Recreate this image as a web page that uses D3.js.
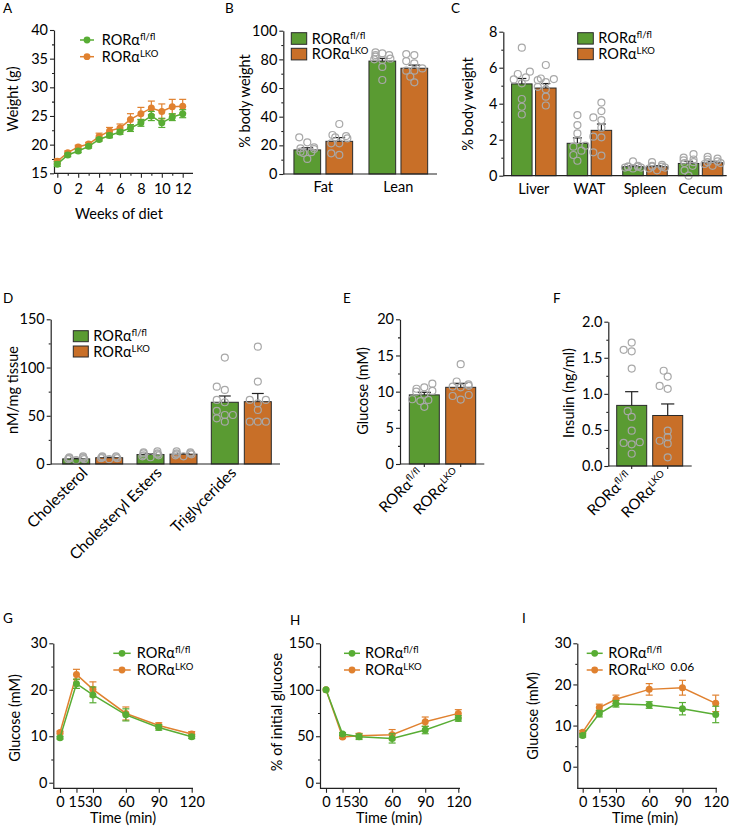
<!DOCTYPE html>
<html><head><meta charset="utf-8">
<script src="https://cdn.jsdelivr.net/npm/d3@7"></script>
<style>body{margin:0;background:#fff}svg{display:block}text{font-family:Lato,sans-serif;fill:#000}</style>
</head><body><svg id="c" width="731" height="832"></svg>
<script>
// ---------------- DATA ----------------
// A: body weight over weeks of diet
const weeks = [0,1,2,3,4,5,6,7,8,9,10,11,12];
const weightFl = [16.6,18.2,18.9,19.7,20.9,21.6,22.2,22.9,23.8,25.0,23.8,24.8,25.4];
const weightFlErr = [0.4,0.3,0.3,0.3,0.3,0.4,0.4,0.6,0.6,0.8,0.8,0.6,0.7];
const weightLko = [17.1,18.6,19.6,20.1,21.4,22.4,22.9,24.4,25.4,26.4,25.8,26.6,26.7];
const weightLkoErr = [0.4,0.3,0.3,0.3,0.6,0.6,0.7,1.0,1.1,1.2,1.3,1.3,1.2];

// B: body composition
const compCats = ["Fat","Lean"];
const compFl = [16.8,78.8], compFlErr = [1.5,1.8];
const compLko = [22.8,73.8], compLkoErr = [2.6,2.2];
const compFlDots = [[22.1,15.6,10.5,25.6,17.9,17.4,14.7,18.6,15.2],[84.9,83,80,74.7,81.9,83,79.5,84.2,65.6,80.5]];
const compLkoDots = [[27.2,21.4,13.3,25.6,34.9,21.4,14.4,24.9,26.5],[83,73.7,64,77.2,72.1,67.9,72.1,83.7,78.8]];

// C: organ weights
const organCats = ["Liver","WAT","Spleen","Cecum"];
const organFl = [5.1,1.8,0.5,0.68], organFlErr = [0.3,0.3,0.05,0.12];
const organLko = [4.87,2.52,0.5,0.72], organLkoErr = [0.25,0.35,0.05,0.08];
const organFlDots = [[5.78,3.4,5.35,7.11,4.26,5.46,3.83,5.65,5.13],[2.35,1.39,1.98,3.37,0.83,1.61,2.81,1.15,1.67],[0.45,0.5,0.55,0.8,0.5,0.45,0.5,0.4],[0.85,0.7,1.0,1.2,0.0,0.55,0.9,0.75,0.3]];
const organLkoDots = [[5.4,4.39,4.94,6.15,3.9,5.31,4.8,5.37,5.2],[3.24,1.11,2.67,4.06,3.09,1.3,3.59,2.13,2.17],[0.45,0.55,0.75,0.4,0.3,0.5,0.6,0.5],[0.75,0.55,0.95,1.05,0.65,0.8,0.9,0.7]];

// D: hepatic lipids
const lipidCats = ["Cholesterol","Cholesteryl Esters","Triglycerides"];
const lipidFl = [5.3,9.8,64], lipidFlErr = [0.6,0.8,6.5];
const lipidLko = [6.5,10.2,64.6], lipidLkoErr = [0.5,0.6,8.5];
const lipidFlDots = [[6,5,7,8,5,6,4,7,6],[9,11,8,13,10,7,11,12,9],[50.8,80.2,110.3,43.9,64,76.8,55,47.3,50.8,66.4]];
const lipidLkoDots = [[7,6,8,7,6,5,8,7],[12,10,9,11,10,13,8,11],[43.9,66.4,121.6,43.9,56,66.4,43.9,85.4,62.9]];

// E: fasting glucose, F: insulin
const genoCats = ["fl/fl","LKO"];
const glucoseMean = [9.55,10.6], glucoseErr = [0.35,0.55];
const glucoseDots = [[10.1,8.85,10.6,9.6,8.95,7.9,11.1,10.0,8.7,10.4],[11.0,9.54,10.6,13.8,8.9,10.7,10.8,9.4,11.4]];
const insulinMean = [0.84,0.70], insulinErr = [0.19,0.16];
const insulinDots = [[1.71,1.61,1.59,1.35,0.76,0.68,0.49,0.32,0.30,0.33,0.17],[1.32,1.24,1.11,1.07,0.49,0.40,0.35,0.31,0.12]];

// G, H, I: tolerance tests
const times = [0,15,30,60,90,120];
const gttFl = [9.7,21.3,18.9,14.6,11.9,9.9], gttFlErr = [0.3,1.0,1.7,1.3,0.6,0.4];
const gttLko = [10.8,23.3,20.1,14.9,12.3,10.5], gttLkoErr = [0.3,1.1,1.6,1.4,0.6,0.5];
const ittFl = [100,52.4,49.5,47.7,56.7,69.2], ittFlErr = [0,1.5,3,5,4,3];
const ittLko = [100,49.2,50.6,51.7,65.7,74.6], ittLkoErr = [0,1.5,2.5,5.5,5,4];
const pttFl = [7.6,12.9,15.3,15.0,14.1,12.7], pttFlErr = [0.4,0.8,0.8,0.8,1.5,2.0];
const pttLko = [8.4,14.4,16.4,18.8,19.2,15.4], pttLkoErr = [0.4,0.8,1.0,1.4,1.8,2.0];

// ---------------- STYLE ----------------
const GREEN_BAR = "#5a9b32", ORANGE_BAR = "#c86f28";
const GREEN_LINE = "#58ad34", ORANGE_LINE = "#e0812f";
const DOT = "#a8a8a8", AXIS = "#222";
const FS = 14.5, FONT = "Lato,sans-serif";

const svg = d3.select("#c");

function styleAxis(g){
  g.selectAll("path.domain").attr("stroke",AXIS).attr("stroke-width",1.2);
  g.selectAll(".tick line").attr("stroke",AXIS).attr("stroke-width",1.1);
  g.selectAll("text").attr("font-size",FS).attr("font-family",FONT).attr("fill","#000");
  g.attr("font-size",null).attr("font-family",null);
}

function yAxis(y, x, majors, minors, fmt){
  const g = svg.append("g").attr("transform",`translate(${x},0)`)
    .call(d3.axisLeft(y).tickValues(majors).tickSize(4).tickSizeOuter(0).tickPadding(2).tickFormat(fmt||d3.format("d")));
  styleAxis(g);
  if(minors){
    const m = svg.append("g").attr("transform",`translate(${x},0)`)
      .call(d3.axisLeft(y).tickValues(minors).tickSize(2).tickFormat(""));
    m.select("path.domain").remove();
    styleAxis(m);
  }
}

function ror(sel, sup){
  sel.append("tspan").text("RORα");
  sel.append("tspan").attr("font-size",9.5).attr("dy",-5).text(sup);
}

function yTitle(txt, x, y){
  svg.append("text").attr("transform",`translate(${x},${y}) rotate(-90)`)
    .attr("text-anchor","middle").attr("dy","0.35em").attr("font-size",FS).text(txt);
}
function letter(t,x,y){ svg.append("text").attr("x",x).attr("y",y).attr("font-size",13.5).text(t); }

function lineLegend(x1,x2,y,color,sup,tx){
  svg.append("line").attr("x1",x1).attr("x2",x2).attr("y1",y).attr("y2",y).attr("stroke",color).attr("stroke-width",1.5);
  svg.append("circle").attr("cx",(x1+x2)/2).attr("cy",y).attr("r",3.4).attr("fill",color);
  ror(svg.append("text").attr("x",tx).attr("y",y+5).attr("font-size",FS),sup);
}
function boxLegend(x,y,w,h,color,sup,tx){
  svg.append("rect").attr("x",x).attr("y",y).attr("width",w).attr("height",h).attr("fill",color).attr("stroke","#2a2a2a").attr("stroke-width",1);
  ror(svg.append("text").attr("x",tx).attr("y",y+h/2+5).attr("font-size",FS),sup);
}

// beeswarm-like horizontal spreading of dots
function swarm(vals, y, cx, r, hw){
  const idx = vals.map((v,i)=>i).sort((a,b)=>vals[a]-vals[b]);
  const placed = [];
  const res = new Array(vals.length);
  const step = r*1.15, minD = 2*r*0.92;
  idx.forEach(i=>{
    const py = y(vals[i]);
    let best = null;
    for(let k=0;k<20;k++){
      const off = (k%2===0?1:-1)*Math.ceil(k/2)*step;
      if(Math.abs(off)>hw) continue;
      const px = cx+off;
      if(placed.every(p=>Math.hypot(p[0]-px,p[1]-py)>=minD)){ best=[px,py]; break; }
    }
    if(!best){ best=[cx+((placed.length%2)?-1:1)*hw*0.6, py]; }
    placed.push(best); res[i]=best;
  });
  return res;
}

// ---------------- BAR PANEL ----------------
function barPanel(cfg){
  const y = d3.scaleLinear().domain(cfg.yDom).range(cfg.yRange);
  const x = d3.scalePoint().domain(cfg.cats).range([cfg.r0,cfg.r1]).padding(cfg.pad);
  const g = svg.append("g");
  cfg.series.forEach((s,si)=>{
    cfg.cats.forEach((c,ci)=>{
      const m = s.means[ci]; if(m==null) return;
      const cx = x(c)+cfg.offsets[si];
      const col = Array.isArray(s.color)? s.color[ci] : s.color;
      g.append("rect").attr("x",cx-cfg.bw/2).attr("y",y(m)).attr("width",cfg.bw).attr("height",y(0)-y(m))
        .attr("fill",col).attr("stroke","#2a2a2a").attr("stroke-width",1);
      const top = y(m+s.errs[ci]);
      g.append("line").attr("x1",cx).attr("x2",cx).attr("y1",y(m)).attr("y2",top).attr("stroke","#222").attr("stroke-width",1.2);
      g.append("line").attr("x1",cx-cfg.bw*0.22).attr("x2",cx+cfg.bw*0.22).attr("y1",top).attr("y2",top).attr("stroke","#222").attr("stroke-width",1.2);
      swarm(s.dots[ci], y, cx, 3.5, cfg.bw/2-2).forEach(p=>{
        g.append("circle").attr("cx",p[0]).attr("cy",p[1]).attr("r",3.5).attr("fill","none").attr("stroke",DOT).attr("stroke-width",1.2);
      });
    });
  });
  yAxis(y, cfg.r0, cfg.majors, cfg.minors, cfg.fmt);
  const ay = y(0);
  svg.append("line").attr("x1",cfg.r0).attr("x2",cfg.xEnd).attr("y1",ay).attr("y2",ay).attr("stroke",AXIS).attr("stroke-width",1.2);
  if(cfg.xTicks){
    cfg.cats.forEach(c=>svg.append("line").attr("x1",x(c)).attr("x2",x(c)).attr("y1",ay).attr("y2",ay+3).attr("stroke",AXIS).attr("stroke-width",1.1));
  }
  cfg.cats.forEach(c=>{
    if(cfg.rot){
      const t = svg.append("text").attr("transform",`translate(${x(c)+cfg.rot[0]},${ay+cfg.rot[1]}) rotate(-45)`)
        .attr("text-anchor","end").attr("dy","0.35em").attr("font-size",cfg.rotFs||FS);
      if(cfg.rorLabels) ror(t,c); else t.text(c);
    } else {
      svg.append("text").attr("x",x(c)).attr("y",ay+18).attr("text-anchor","middle").attr("font-size",FS).text(c);
    }
  });
  return {x,y};
}

// ---------------- LINE PANEL ----------------
function linePanel(cfg){
  const x = d3.scaleLinear().domain(cfg.xDom).range(cfg.xRange);
  const y = d3.scaleLinear().domain(cfg.yDom).range(cfg.yRange);
  yAxis(y, cfg.axX, cfg.majors, cfg.minors, cfg.fmt);
  const ay = y(cfg.yDom[0]);
  svg.append("line").attr("x1",cfg.axX).attr("x2",cfg.axEnd).attr("y1",ay).attr("y2",ay).attr("stroke",AXIS).attr("stroke-width",1.2);
  const xa = svg.append("g").attr("transform",`translate(0,${ay})`)
    .call(d3.axisBottom(x).tickValues(cfg.xMajors).tickSize(4.5).tickPadding(cfg.xPad).tickFormat(d3.format("d")));
  xa.select("path.domain").remove(); styleAxis(xa);
  if(cfg.xMinors){
    const xm = svg.append("g").attr("transform",`translate(0,${ay})`)
      .call(d3.axisBottom(x).tickValues(cfg.xMinors).tickSize(2.5).tickFormat(""));
    xm.select("path.domain").remove(); styleAxis(xm);
  }
  const g = svg.append("g");
  cfg.series.forEach(s=>{
    s.vals.forEach((v,i)=>{
      const e = s.errs[i]; if(!e) return;
      const cx = x(cfg.xs[i]);
      g.append("line").attr("x1",cx).attr("x2",cx).attr("y1",y(v-e)).attr("y2",y(v+e)).attr("stroke",s.color).attr("stroke-width",1.2);
      [v-e,v+e].forEach(b=>g.append("line").attr("x1",cx-3.5).attr("x2",cx+3.5).attr("y1",y(b)).attr("y2",y(b)).attr("stroke",s.color).attr("stroke-width",1.2));
    });
    g.append("path").datum(s.vals).attr("fill","none").attr("stroke",s.color).attr("stroke-width",1.5)
      .attr("d",d3.line().x((d,i)=>x(cfg.xs[i])).y(d=>y(d)));
    s.vals.forEach((v,i)=>g.append("circle").attr("cx",x(cfg.xs[i])).attr("cy",y(v)).attr("r",3.5).attr("fill",s.color));
  });
  return {x,y};
}

// ---------------- PANEL A ----------------
letter("A",3,13);
linePanel({xDom:[0,12],xRange:[57.3,182.7],yDom:[15,40],yRange:[173.3,30],axX:54,axEnd:193,
  majors:d3.range(15,41,5),minors:d3.range(17.5,40,5),xMajors:d3.range(0,13,2),xMinors:d3.range(1,12,2),xPad:6,
  xs:weeks,series:[{vals:weightLko,errs:weightLkoErr,color:ORANGE_LINE},{vals:weightFl,errs:weightFlErr,color:GREEN_LINE}]});
yTitle("Weight (g)",13,99);
svg.append("text").attr("x",119).attr("y",219).attr("text-anchor","middle").attr("font-size",FS).text("Weeks of diet");
lineLegend(80,94,40,GREEN_LINE,"fl/fl",101.7);
lineLegend(80,94,56.7,ORANGE_LINE,"LKO",101.7);

// ---------------- PANEL B ----------------
letter("B",225,13);
barPanel({cats:compCats,yDom:[0,100],yRange:[174,30.7],r0:283.3,r1:438.3,xEnd:437,pad:0.533,offsets:[-16,16],bw:26.7,
  majors:d3.range(0,101,20),minors:d3.range(10,100,20),
  series:[{means:compFl,errs:compFlErr,dots:compFlDots,color:GREEN_BAR},{means:compLko,errs:compLkoErr,dots:compLkoDots,color:ORANGE_BAR}]});
yTitle("% body weight",245,101);
boxLegend(291.3,32.7,15.4,11.6,GREEN_BAR,"fl/fl",311.7);
boxLegend(291.3,48.3,15.4,11.6,ORANGE_BAR,"LKO",311.7);

// ---------------- PANEL C ----------------
letter("C",451,13);
barPanel({cats:organCats,yDom:[0,8],yRange:[175.7,31.7],r0:503.3,r1:731.1,xEnd:726.7,pad:0.549,offsets:[-12,12],bw:20.5,
  majors:[0,2,4,6,8],minors:[1,3,5,7],
  series:[{means:organFl,errs:organFlErr,dots:organFlDots,color:GREEN_BAR},{means:organLko,errs:organLkoErr,dots:organLkoDots,color:ORANGE_BAR}]});
yTitle("% body weight",468,104);
boxLegend(577.7,32.7,15.6,11.4,GREEN_BAR,"fl/fl",598.3);
boxLegend(577.7,48.3,15.6,11.4,ORANGE_BAR,"LKO",598.3);

// ---------------- PANEL D ----------------
letter("D",3,303);
barPanel({cats:lipidCats,yDom:[0,150],yRange:[464,319.3],r0:50.7,r1:283.3,xEnd:280,pad:0.565,offsets:[-16.5,16.5],bw:27,
  majors:[0,50,100,150],minors:[25,75,125],rot:[-8,6],rotFs:15.5,
  series:[{means:lipidFl,errs:lipidFlErr,dots:lipidFlDots,color:GREEN_BAR},{means:lipidLko,errs:lipidLkoErr,dots:lipidLkoDots,color:ORANGE_BAR}]});
yTitle("nM/mg tissue",13,390);
boxLegend(73.3,330.7,15,11,GREEN_BAR,"fl/fl",93.3);
boxLegend(73.3,346,15,11,ORANGE_BAR,"LKO",93.3);

// ---------------- PANEL E ----------------
letter("E",343,303);
barPanel({cats:genoCats,yDom:[0,20],yRange:[464,319.3],r0:400,r1:485,xEnd:484.3,pad:0.668,offsets:[0],bw:30,xTicks:true,
  majors:[0,5,10,15,20],minors:[2.5,7.5,12.5,17.5],rot:[-4,7],rotFs:15,rorLabels:true,
  series:[{means:glucoseMean,errs:glucoseErr,dots:glucoseDots,color:[GREEN_BAR,ORANGE_BAR]}]});
yTitle("Glucose (mM)",363,391);

// ---------------- PANEL F ----------------
letter("F",553,303);
barPanel({cats:genoCats,yDom:[0,2],yRange:[466,321.7],r0:608.3,r1:691.1,xEnd:691.7,pad:0.65,offsets:[0],bw:30,xTicks:true,
  majors:[0,0.5,1,1.5,2],minors:[0.25,0.75,1.25,1.75],fmt:d3.format(".1f"),rot:[-3,8],rotFs:15,rorLabels:true,
  series:[{means:insulinMean,errs:insulinErr,dots:insulinDots,color:[GREEN_BAR,ORANGE_BAR]}]});
yTitle("Insulin (ng/ml)",569,393);

// ---------------- PANEL G ----------------
letter("G",3,623);
linePanel({xDom:[0,120],xRange:[60,191.7],yDom:[-1.2,30],yRange:[788.3,643.3],axX:53.3,axEnd:193,
  majors:[0,10,20,30],minors:[5,15,25],xMajors:times,xPad:4,
  xs:times,series:[{vals:gttLko,errs:gttLkoErr,color:ORANGE_LINE},{vals:gttFl,errs:gttFlErr,color:GREEN_LINE}]});
yTitle("Glucose (mM)",15,718);
svg.append("text").attr("x",123).attr("y",823).attr("text-anchor","middle").attr("font-size",FS).text("Time (min)");
lineLegend(113.3,130.7,653.3,GREEN_LINE,"fl/fl",136.7);
lineLegend(113.3,130.7,670,ORANGE_LINE,"LKO",136.7);

// ---------------- PANEL H ----------------
letter("H",290,625);
linePanel({xDom:[0,120],xRange:[326,458.3],yDom:[-6,150],yRange:[788.3,643.3],axX:320,axEnd:460,
  majors:[0,50,100,150],minors:[25,75,125],xMajors:times,xPad:4,
  xs:times,series:[{vals:ittLko,errs:ittLkoErr,color:ORANGE_LINE},{vals:ittFl,errs:ittFlErr,color:GREEN_LINE}]});
yTitle("% of  initial glucose",277,712);
svg.append("text").attr("x",389).attr("y",823).attr("text-anchor","middle").attr("font-size",FS).text("Time (min)");
lineLegend(344,360,653.3,GREEN_LINE,"fl/fl",365);
lineLegend(344,360,670,ORANGE_LINE,"LKO",365);

// ---------------- PANEL I ----------------
letter("I",522,623);
const pI = linePanel({xDom:[0,120],xRange:[582.7,715.7],yDom:[-5.25,30],yRange:[788.3,643.3],axX:577.3,axEnd:717,
  majors:[0,10,20,30],minors:[5,15,25],xMajors:times,xPad:4,
  xs:times,series:[{vals:pttLko,errs:pttLkoErr,color:ORANGE_LINE},{vals:pttFl,errs:pttFlErr,color:GREEN_LINE}]});
yTitle("Glucose (mM)",533,716);
svg.append("text").attr("x",645).attr("y",823).attr("text-anchor","middle").attr("font-size",FS).text("Time (min)");
lineLegend(586.7,602.7,653.3,GREEN_LINE,"fl/fl",608.3);
lineLegend(586.7,602.7,670,ORANGE_LINE,"LKO",608.3);
svg.append("text").attr("x",pI.x(90)).attr("y",pI.y(pttLko[4]+pttLkoErr[4])-9).attr("text-anchor","middle").attr("font-size",12).text("0.06");
</script></body></html>
